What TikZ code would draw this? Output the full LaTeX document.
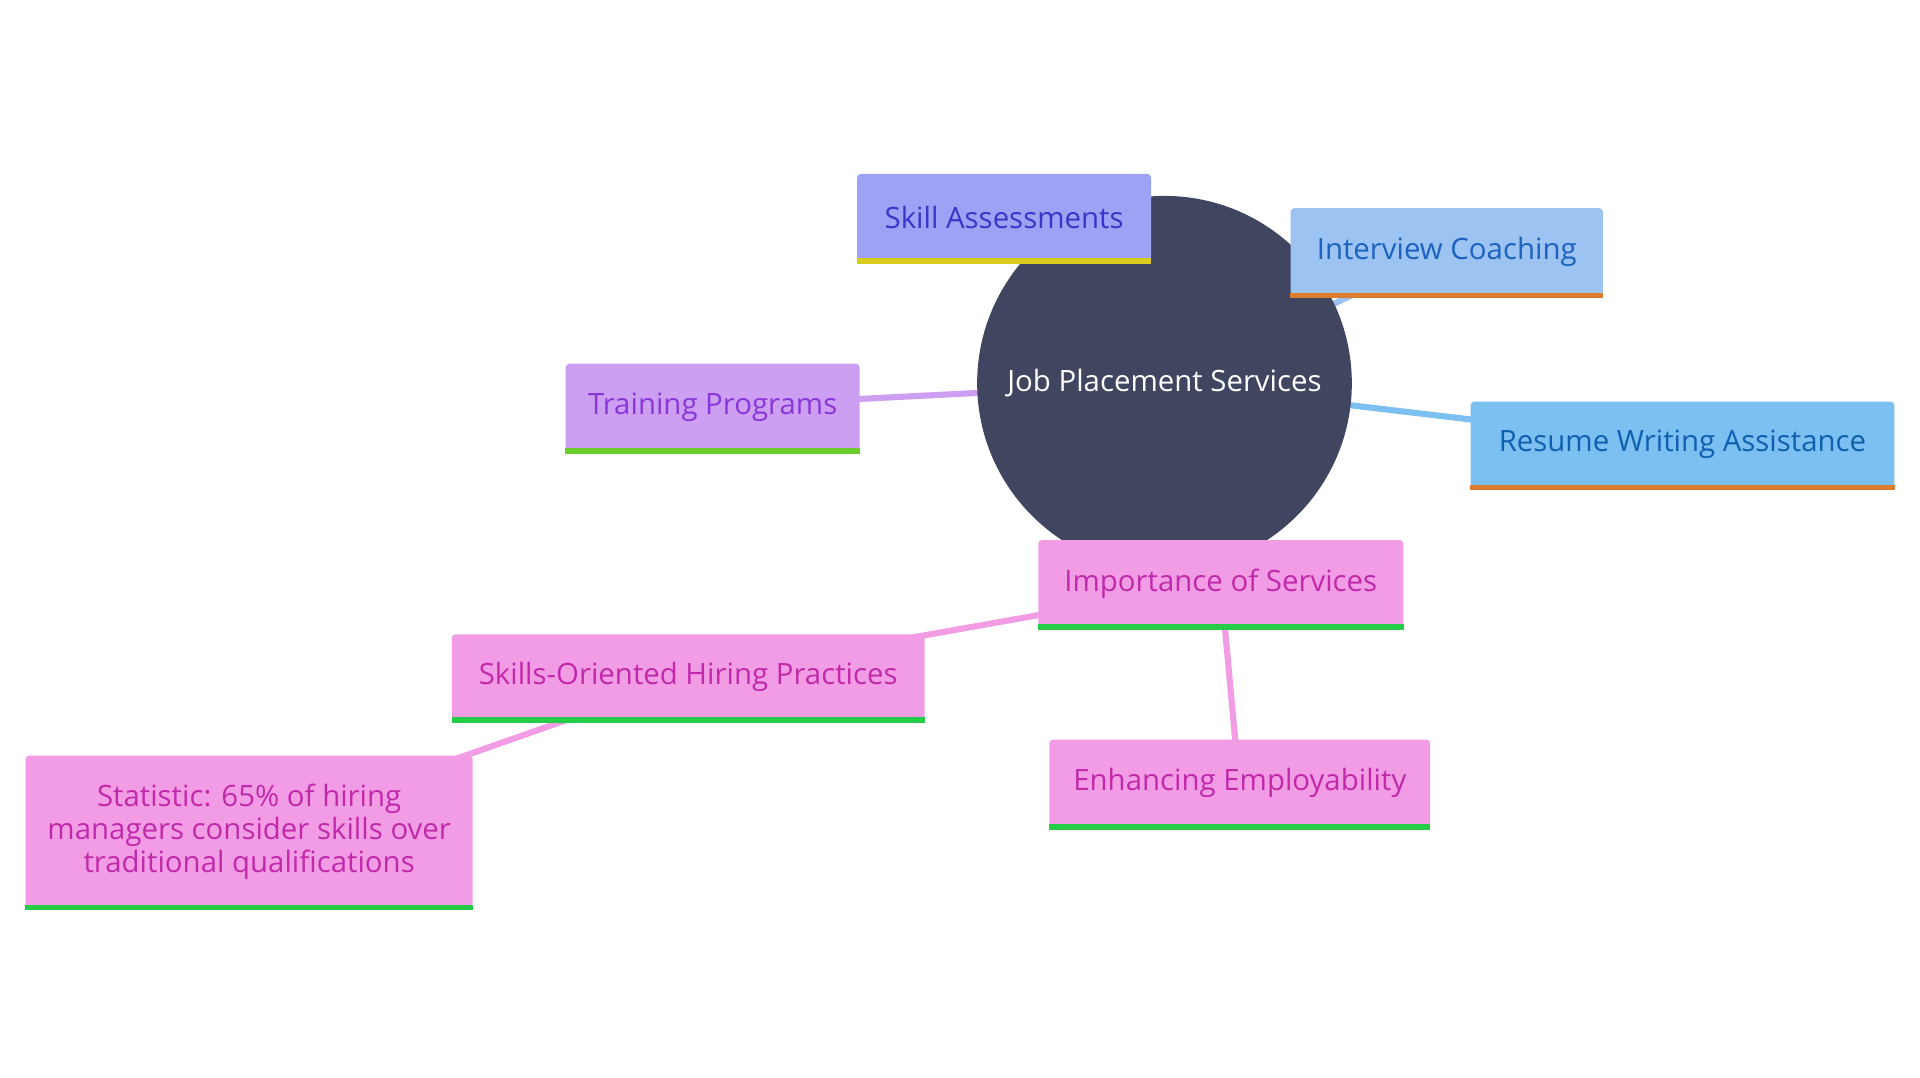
\documentclass[tikz,border=0pt]{standalone}
\usepackage{fontspec}
\setmainfont{Open Sans}
\usetikzlibrary{positioning}
\definecolor{hub}{HTML}{404660}
\definecolor{skillF}{HTML}{9EA2F4}\definecolor{skillT}{HTML}{3B35C9}
\definecolor{coachF}{HTML}{9CC3F1}\definecolor{coachT}{HTML}{1C62C0}
\definecolor{resumeF}{HTML}{7CBFF1}\definecolor{resumeT}{HTML}{1060B0}
\definecolor{trainF}{HTML}{CC9FF2}\definecolor{trainT}{HTML}{8A36D8}
\definecolor{impF}{HTML}{F39CE6}\definecolor{impT}{HTML}{C02AAA}
\definecolor{barY}{HTML}{D8CC1E}\definecolor{barO}{HTML}{DE7C2E}
\definecolor{barG}{HTML}{6CCC2C}\definecolor{barB}{HTML}{24CC48}
\tikzset{
    box/.style={rectangle, rounded corners=3pt, inner sep=0pt, minimum height=71pt, font=\fontsize{24}{27}\selectfont, align=center},
    link/.style={line width=5pt},
    bar/.style={line width=4.5pt},
}
\begin{document}
\begin{tikzpicture}[x=1pt, y=-1pt]
    \useasboundingbox (0,0) rectangle (1568,880);
    % edges first
    \draw[link, coachF] (951,313) -- (1181,205);
    \draw[link, resumeF] (951,313) -- (1374,363);
    \draw[link, trainF] (951,313) -- (582,332);
    \draw[link, impF] (997,476) -- (562,553);
    \draw[link, impF] (997,476) -- (1012,640);
    \draw[link, impF] (562,553) -- (204,679);
    % hub
    \node[circle, fill=hub, minimum size=306pt, text=white, font=\fontsize{24}{27}\selectfont] (hub) at (951,313) {Job Placement Services};
    % children
    \node[box, fill=skillF, text=skillT, minimum width=240pt] (skill) at (820,177.5) {Skill Assessments};
    \node[box, fill=coachF, text=coachT, minimum width=255pt] (coach) at (1181.5,205.5) {Interview Coaching};
    \node[box, fill=resumeF, text=resumeT, minimum width=346pt, minimum height=70pt] (resume) at (1374,363) {Resume Writing Assistance};
    \node[box, fill=trainF, text=trainT, minimum width=240pt] (train) at (582,332.5) {Training Programs};
    \node[box, fill=impF, text=impT, minimum width=298pt] (imp) at (997,476.5) {Importance of Services};
    \node[box, fill=impF, text=impT, minimum width=386pt, minimum height=70pt] (hiring) at (562,553) {Skills-Oriented Hiring Practices};
    \node[box, fill=impF, text=impT, minimum width=311pt] (employ) at (1012.5,639.5) {Enhancing Employability};
    \node[box, fill=impF, text=impT, minimum width=365pt, minimum height=124pt] (stat) at (203.5,679) {Statistic: 65\% of hiring\\managers consider skills over\\traditional qualifications};
    % bottom bars
    \draw[bar, barY] (skill.south west) -- (skill.south east);
    \draw[bar, barO] (coach.south west) -- (coach.south east);
    \draw[bar, barO] (resume.south west) -- (resume.south east);
    \draw[bar, barG] (train.south west) -- (train.south east);
    \foreach \n in {imp, hiring, employ, stat}
        \draw[bar, barB] (\n.south west) -- (\n.south east);
\end{tikzpicture}
\end{document}
